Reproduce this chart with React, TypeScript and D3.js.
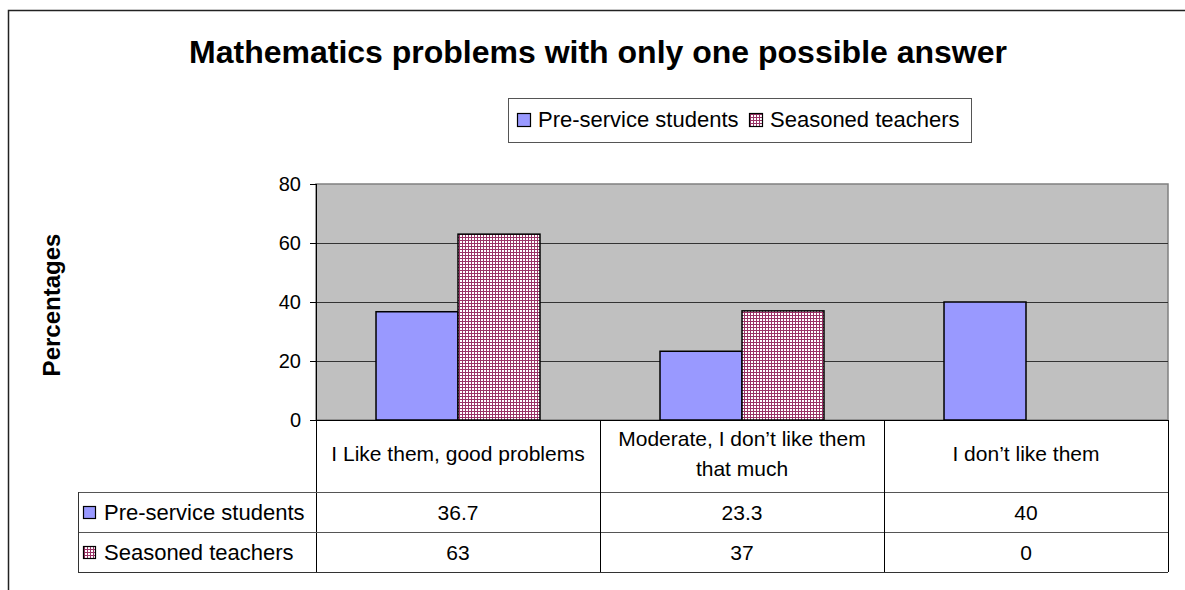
import * as d3 from "d3";

const TITLE = "Mathematics problems with only one possible answer";
const Y_LABEL = "Percentages";
const CATEGORY_LINES = [
  ["I Like them, good problems"],
  ["Moderate, I don’t like them", "that much"],
  ["I don’t like them"],
];
const SERIES = ["Pre-service students", "Seasoned teachers"];
const PRE_SERVICE = [36.7, 23.3, 40];
const SEASONED = [63, 37, 0];
const Y_TICKS = [0, 20, 40, 60, 80];

const FONT = "'Liberation Sans', Arial, sans-serif";
const PURPLE = "#9999FF";
const PLUM = "#993366";

const PLOT = { left: 316, right: 1168, top: 184, bottom: 420 };
const TABLE = { left: 78, catBottom: 492, row1: 532, row2: 572 };

export default function App() {
  const values = [PRE_SERVICE, SEASONED];
  const fills = [PURPLE, "url(#grid)"];

  const yScale = d3.scaleLinear().domain([0, 80]).range([PLOT.bottom, PLOT.top]);
  const xCat = d3
    .scaleBand<number>()
    .domain(d3.range(CATEGORY_LINES.length))
    .range([PLOT.left, PLOT.right]);
  const xSeries = d3
    .scaleBand<number>()
    .domain(d3.range(SERIES.length))
    .range([0, xCat.bandwidth()])
    .paddingOuter(0.732);

  const bars = values.flatMap((vals, s) =>
    vals.map((v, i) => {
      if (v === 0) return null;
      const x = (xCat(i) as number) + (xSeries(s) as number);
      return (
        <rect
          key={`${s}-${i}`}
          x={x}
          y={yScale(v)}
          width={xSeries.bandwidth()}
          height={PLOT.bottom - yScale(v)}
          fill={fills[s]}
          stroke="#000"
          strokeWidth={1.5}
        />
      );
    })
  );

  const rowMid = [(TABLE.catBottom + TABLE.row1) / 2, (TABLE.row1 + TABLE.row2) / 2];

  return (
    <svg
      width={1185}
      height={590}
      style={{ position: "absolute", left: 0, top: 0, fontFamily: FONT }}
    >
      <defs>
        <pattern id="grid" patternUnits="userSpaceOnUse" width={3} height={3}>
          <rect width={3} height={3} fill="#fff" />
          <rect width={1} height={3} fill={PLUM} />
          <rect width={3} height={1} fill={PLUM} />
        </pattern>
      </defs>
      <rect width={1185} height={590} fill="#fff" />
      {/* outer chart border */}
      <path d="M8.5,590 V10.5 H1185" fill="none" stroke="#222" strokeWidth={1.5} />

      <text x={598} y={63} textAnchor="middle" fontSize={32} fontWeight="bold">
        {TITLE}
      </text>

      {/* legend */}
      <rect x={508.5} y={98.5} width={463} height={44} fill="#fff" stroke="#555" />
      {SERIES.map((name, s) => {
        const x0 = s === 0 ? 517 : 749;
        return (
          <g key={name}>
            <rect x={x0 + 0.5} y={113.5} width={13} height={13} fill={fills[s]} stroke="#000" strokeWidth={1.2} />
            <text x={x0 + 21} y={127} fontSize={22}>
              {name}
            </text>
          </g>
        );
      })}

      {/* plot area */}
      <rect
        x={PLOT.left}
        y={PLOT.top}
        width={PLOT.right - PLOT.left}
        height={PLOT.bottom - PLOT.top}
        fill="#C0C0C0"
        stroke="#808080"
        strokeWidth={1.5}
      />
      {Y_TICKS.filter((t) => t > 0 && t < 80).map((t) => (
        <line
          key={t}
          x1={PLOT.left}
          x2={PLOT.right}
          y1={yScale(t) + 0.5}
          y2={yScale(t) + 0.5}
          stroke="#333"
        />
      ))}
      {bars}

      {/* y axis */}
      <line x1={PLOT.left + 0.5} x2={PLOT.left + 0.5} y1={PLOT.top} y2={TABLE.row2} stroke="#000" />
      {Y_TICKS.map((t) => (
        <g key={t}>
          <line x1={PLOT.left - 6} x2={PLOT.left} y1={yScale(t) + 0.5} y2={yScale(t) + 0.5} stroke="#000" />
          <text x={301} y={yScale(t) + 7} textAnchor="end" fontSize={20}>
            {t}
          </text>
        </g>
      ))}
      <text
        transform={`translate(60, 305) rotate(-90)`}
        textAnchor="middle"
        fontSize={24}
        fontWeight="bold"
      >
        {Y_LABEL}
      </text>

      {/* data table */}
      <line x1={PLOT.left} x2={PLOT.right} y1={PLOT.bottom + 0.5} y2={PLOT.bottom + 0.5} stroke="#000" />
      <line x1={TABLE.left} x2={PLOT.right} y1={TABLE.catBottom + 0.5} y2={TABLE.catBottom + 0.5} stroke="#555" />
      <line x1={TABLE.left} x2={PLOT.right} y1={TABLE.row1 + 0.5} y2={TABLE.row1 + 0.5} stroke="#555" />
      <line x1={TABLE.left} x2={PLOT.right} y1={TABLE.row2 + 0.5} y2={TABLE.row2 + 0.5} stroke="#333" />
      <line x1={TABLE.left + 0.5} x2={TABLE.left + 0.5} y1={TABLE.catBottom} y2={TABLE.row2} stroke="#333" />
      {CATEGORY_LINES.map((_, i) => {
        const xr = (xCat(i) as number) + xCat.bandwidth();
        return (
          <line key={i} x1={xr + 0.5} x2={xr + 0.5} y1={PLOT.bottom} y2={TABLE.row2} stroke="#000" />
        );
      })}
      {CATEGORY_LINES.map((lines, i) => {
        const cx = (xCat(i) as number) + xCat.bandwidth() / 2;
        const mid = (PLOT.bottom + TABLE.catBottom) / 2;
        const lh = 30;
        return (
          <text key={i} x={cx} textAnchor="middle" fontSize={21}>
            {lines.map((l, k) => (
              <tspan key={k} x={cx} y={mid + 5 + (k - (lines.length - 1) / 2) * lh}>
                {l}
              </tspan>
            ))}
          </text>
        );
      })}
      {SERIES.map((name, s) => (
        <g key={name}>
          <rect
            x={83.5}
            y={rowMid[s] - 5.5}
            width={12}
            height={12}
            fill={fills[s]}
            stroke="#000"
            strokeWidth={1.2}
          />
          <text x={104} y={rowMid[s] + 8} fontSize={22}>
            {name}
          </text>
          {values[s].map((v, i) => (
            <text
              key={i}
              x={(xCat(i) as number) + xCat.bandwidth() / 2}
              y={rowMid[s] + 8}
              textAnchor="middle"
              fontSize={21}
            >
              {v}
            </text>
          ))}
        </g>
      ))}
    </svg>
  );
}
